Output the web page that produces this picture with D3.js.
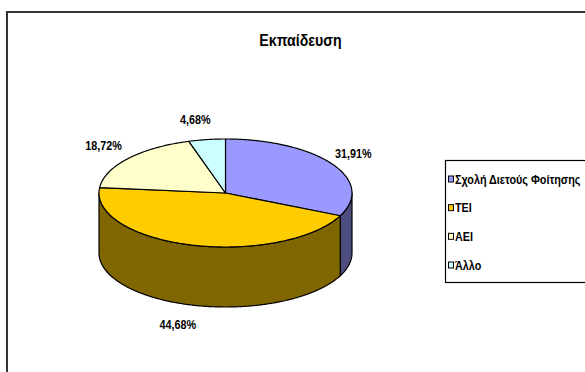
<!DOCTYPE html>
<html>
<head>
<meta charset="utf-8">
<script src="https://cdn.jsdelivr.net/npm/d3@7"></script>
<style>
  html, body { margin: 0; padding: 0; background: #fff; }
  svg { display: block; }
  text { font-family: "Liberation Sans", Arial, sans-serif; font-weight: bold; fill: #000; }
</style>
</head>
<body>
<svg id="chart" width="585" height="372"></svg>
<script>
// Education breakdown (percent of respondents)
const categories = ["Σχολή Διετούς Φοίτησης", "ΤΕΙ", "ΑΕΙ", "Άλλο"];
const values = [31.91, 44.68, 18.72, 4.68];
const topColors = ["#9999FF", "#FFCC00", "#FFFFCC", "#CCFFFF"];
const sideColors = ["#4D4D80", "#806600", "#808066", "#668080"];
const title = "Εκπαίδευση";

const W = 585, H = 372;
const svg = d3.select("#chart");

// text in a narrow face: place at (x, y) and squeeze horizontally
function narrowText(parent, x, y, str, size, factor, anchor) {
  return parent.append("text")
    .attr("transform", `translate(${x},${y}) scale(${factor},1)`)
    .attr("text-anchor", anchor || "start")
    .attr("font-size", size)
    .text(str);
}

// chart frame
svg.append("rect")
  .attr("x", 7).attr("y", 12).attr("width", W + 20).attr("height", H + 20)
  .attr("fill", "none").attr("stroke", "#333").attr("stroke-width", 2);

// title
narrowText(svg, 300.5, 45.5, title, 16.5, 0.86, "middle");

// 3D pie geometry
const cx = 225.5, cy = 193, rx = 126.5, ry = 54, depth = 60;

const pie = d3.pie().sort(null).value(d => d)(values);

const pt = (a, dy) => [cx + rx * Math.sin(a), cy - ry * Math.cos(a) + dy];
function arcPts(a0, a1, dy) {
  const n = Math.max(2, Math.ceil(Math.abs(a1 - a0) / 0.01));
  return d3.range(n + 1).map(i => pt(a0 + (a1 - a0) * i / n, dy));
}
const line = d3.line();

// side walls (front half only: angles between 90° and 270°)
const frontStart = Math.PI / 2, frontEnd = 3 * Math.PI / 2;
const walls = svg.append("g");
pie.forEach((s, i) => {
  const a0 = Math.max(s.startAngle, frontStart);
  const a1 = Math.min(s.endAngle, frontEnd);
  if (a1 <= a0) return;
  const pts = arcPts(a0, a1, 0).concat(arcPts(a1, a0, depth));
  walls.append("path")
    .attr("d", line(pts) + "Z")
    .attr("fill", sideColors[i])
    .attr("stroke", "#000")
    .attr("stroke-width", 1.2)
    .attr("stroke-linejoin", "round");
});

// top faces
const tops = svg.append("g");
pie.forEach((s, i) => {
  const pts = [[cx, cy]].concat(arcPts(s.startAngle, s.endAngle, 0));
  tops.append("path")
    .attr("d", line(pts) + "Z")
    .attr("fill", topColors[i])
    .attr("stroke", "#000")
    .attr("stroke-width", 1.2)
    .attr("stroke-linejoin", "round");
});

// percentage labels outside the slices
const fmt = v => d3.format(".2f")(v).replace(".", ",") + "%";
const labels = svg.append("g");
pie.forEach((s, i) => {
  const a = (s.startAngle + s.endAngle) / 2;
  const sa = Math.sin(a), ca = Math.cos(a);
  const x = cx + (rx + 25) * sa - (sa < 0 ? 8 * Math.abs(ca) : 0);
  const y = cy - (ry + 20) * ca + (ca < 0 ? depth : 0);
  narrowText(labels, x, y + 4.5, fmt(values[i]), 13.5, 0.8, "middle");
});

// legend
const lg = svg.append("g");
lg.append("rect")
  .attr("x", 445.5).attr("y", 160.5).attr("width", 200).attr("height", 122)
  .attr("fill", "#fff").attr("stroke", "#000").attr("stroke-width", 1.2);
const rowY = d3.scalePoint().domain(categories).range([179, 265]);
categories.forEach((c, i) => {
  const y = rowY(c);
  lg.append("rect")
    .attr("x", 448.5).attr("y", y - 3).attr("width", 5).attr("height", 6)
    .attr("fill", topColors[i]).attr("stroke", "#000").attr("stroke-width", 1);
  narrowText(lg, 455, y + 4.5, c, 13.5, 0.8);
});
</script>
</body>
</html>
